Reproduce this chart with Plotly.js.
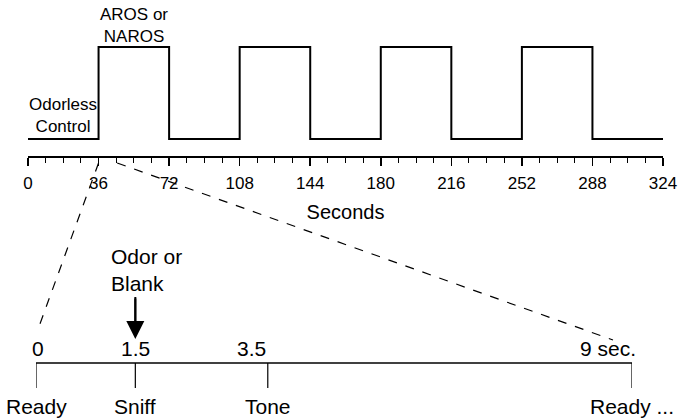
<!DOCTYPE html>
<html><head><meta charset="utf-8">
<script src="https://cdn.plot.ly/plotly-3.0.1.min.js"></script>
<style>html,body{margin:0;padding:0;background:#fff}</style>
</head><body>
<div id="chart" style="width:679px;height:418px"></div>
<script>
// ---- data ----
const blockStartSec = [0, 36, 72, 108, 144, 180, 216, 252, 288, 324];
const odorLevel     = [0, 1, 0, 1, 0, 1, 0, 1, 0, 0];
const secondTicks   = [0, 36, 72, 108, 144, 180, 216, 252, 288, 324];
const zoomWindow    = [36, 45];            // one 9-s trial, expanded below
const trialTimes    = [0, 1.5, 3.5, 9];
const trialTimeText = ['0', '1.5', '3.5', '9 sec.'];
const trialEvents   = ['Ready', 'Sniff', 'Tone', 'Ready ...'];
const odorEventTime = 1.5;

// ---- geometry ----
const W = 679, H = 418;
const FONT = 'Liberation Sans, Arial, sans-serif';
const xDom  = [28 / W, 663 / W];
const yDom  = [1 - 156 / H, 1];
const yRng  = [-17 / 92, 1 + 47 / 92];
const x2Dom = [36 / W, 632 / W];
const y2Dom = [0, 1 - 240 / H];
const y2Rng = [-2.2, 4.92];
const xRng = [0, 324], x2Rng = [0, 9];

function lin(v, rng, dom) { return dom[0] + (v - rng[0]) / (rng[1] - rng[0]) * (dom[1] - dom[0]); }

const traces = [];
traces.push({
  x: blockStartSec, y: odorLevel, type: 'scatter', mode: 'lines',
  line: {shape: 'hv', color: '#000', width: 2}, xaxis: 'x', yaxis: 'y',
  hoverinfo: 'skip', cliponaxis: false
});
traces.push({
  x: [trialTimes[0], trialTimes[trialTimes.length - 1]], y: [0, 0],
  type: 'scatter', mode: 'lines', line: {color: '#000', width: 1.5},
  xaxis: 'x2', yaxis: 'y2', hoverinfo: 'skip', cliponaxis: false
});
const tx = [], ty = [];
trialTimes.forEach(t => { tx.push(t, t, null); ty.push(0, -1, null); });
traces.push({
  x: tx, y: ty, type: 'scatter', mode: 'lines', line: {color: '#000', width: 1.2},
  xaxis: 'x2', yaxis: 'y2', hoverinfo: 'skip', cliponaxis: false
});
// arrow shaft for the odor/blank delivery
traces.push({
  x: [odorEventTime, odorEventTime], y: [0.96 + 42 / 25, 1.5],
  type: 'scatter', mode: 'lines', line: {color: '#000', width: 2},
  xaxis: 'x2', yaxis: 'y2', hoverinfo: 'skip', cliponaxis: false
});

const annotations = [];
annotations.push({xref: 'x', yref: 'y', x: (blockStartSec[1] + blockStartSec[2]) / 2, y: 1,
  text: 'AROS or<br>NAROS', showarrow: false, yanchor: 'bottom', yshift: -1,
  font: {family: FONT, size: 17, color: '#000'}});
annotations.push({xref: 'x', yref: 'y', x: (blockStartSec[0] + blockStartSec[1]) / 2, y: 0,
  text: 'Odorless<br>Control', showarrow: false, yanchor: 'bottom', yshift: 1,
  font: {family: FONT, size: 17, color: '#000'}});

trialTimes.forEach((t, i) => {
  annotations.push({xref: 'x2', yref: 'y2', x: t, y: -1, text: trialEvents[i],
    showarrow: false, yanchor: 'top', yshift: -5,
    font: {family: FONT, size: 21, color: '#000'}});
  const right = i >= 2;
  annotations.push({xref: 'x2', yref: 'y2', x: t, y: 0, text: trialTimeText[i],
    showarrow: false, yanchor: 'bottom', yshift: 1,
    xanchor: right ? 'right' : 'center', xshift: i === 3 ? 6 : (i === 0 ? 2 : 0),
    font: {family: FONT, size: 21, color: '#000'}});
});
annotations.push({xref: 'x2', yref: 'y2', x: odorEventTime, y: 0.96, ax: 0, ay: -42,
  text: '', showarrow: true, arrowhead: 2, arrowsize: 1.8, arrowwidth: 2, arrowcolor: '#000'});
annotations.push({xref: 'x2', yref: 'y2', x: odorEventTime, y: 3.74,
  text: 'Odor or<br>Blank', showarrow: false, xanchor: 'left', xshift: -26, align: 'left',
  font: {family: FONT, size: 21, color: '#000'}});

// dashed zoom lines from the top time axis to the trial timeline
const topY = yDom[0] - 7 / H;
const botY = [lin(1.24, y2Rng, y2Dom), lin(0.92, y2Rng, y2Dom)];
const shapes = zoomWindow.map((s, i) => ({
  type: 'line', xref: 'paper', yref: 'paper',
  x0: lin(s, xRng, xDom) + (i ? 1 / W : 0), y0: topY,
  x1: lin(trialTimes[i === 0 ? 0 : trialTimes.length - 1], x2Rng, x2Dom) + (i ? -19 / W : 1 / W), y1: botY[i],
  line: {color: '#000', width: 1.2, dash: 'dash'}
}));

const layout = {
  width: W, height: H, autosize: false,
  margin: {l: 0, r: 0, t: 0, b: 0, pad: 0},
  paper_bgcolor: '#fff', plot_bgcolor: 'rgba(0,0,0,0)',
  showlegend: false,
  font: {family: FONT, color: '#000'},
  xaxis: {domain: xDom, range: xRng, anchor: 'y', tickmode: 'array', tickvals: secondTicks,
    ticks: 'outside', ticklen: 8, tickwidth: 1.5, tickcolor: '#000', ticklabelstandoff: 3,
    showline: true, linewidth: 1.5, linecolor: '#000', showgrid: false, zeroline: false,
    tickfont: {family: FONT, size: 17, color: '#000'},
    minor: {tickmode: 'linear', tick0: 0, dtick: 9, ticks: 'outside', ticklen: 5, tickwidth: 1, tickcolor: '#000', showgrid: false},
    title: {text: 'Seconds', font: {family: FONT, size: 20, color: '#000'}, standoff: 13},
    fixedrange: true},
  yaxis: {domain: yDom, range: yRng, visible: false, fixedrange: true},
  xaxis2: {domain: x2Dom, range: x2Rng, anchor: 'y2', visible: false, fixedrange: true},
  yaxis2: {domain: y2Dom, range: y2Rng, anchor: 'x2', visible: false, fixedrange: true},
  annotations: annotations,
  shapes: shapes
};

Plotly.newPlot('chart', traces, layout, {displayModeBar: false, staticPlot: true});
</script>
</body></html>
